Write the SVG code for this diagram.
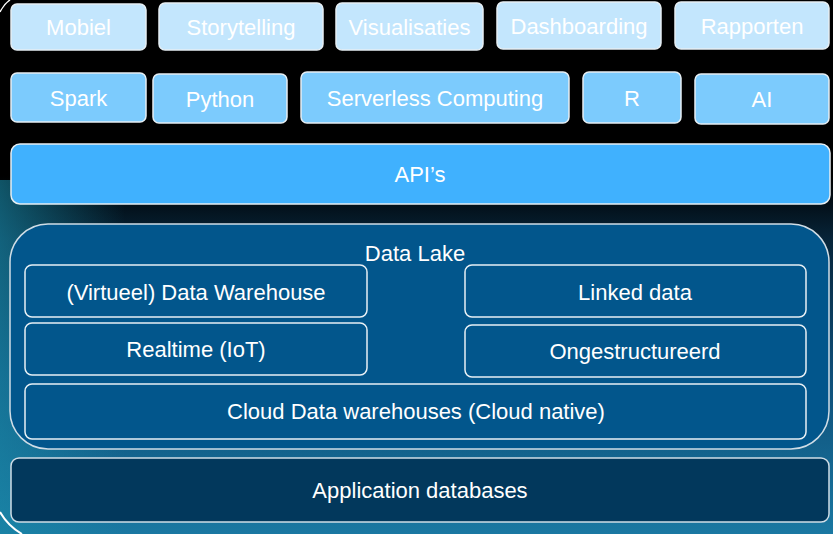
<svg xmlns="http://www.w3.org/2000/svg" width="833" height="534" viewBox="0 0 833 534">
<defs>
<linearGradient id="bg" x1="0" y1="0" x2="0" y2="1">
<stop offset="0" stop-color="#000"/>
<stop offset="0.33" stop-color="#000"/>
<stop offset="0.45" stop-color="#07253a"/>
<stop offset="0.7" stop-color="#0e4e78"/>
<stop offset="1" stop-color="#1a78a2"/>
</linearGradient>
<linearGradient id="bgl" x1="0" y1="0" x2="1" y2="0">
<stop offset="0" stop-color="#1a8aa8" stop-opacity="0.6"/>
<stop offset="0.15" stop-color="#1a8aa8" stop-opacity="0"/>
</linearGradient>
<style>
.t{font-family:"Liberation Sans",Arial,sans-serif;font-size:22px;fill:#fff;text-anchor:middle;dominant-baseline:central}
.r1{fill:#c3e6fd;stroke:#e6eef3;stroke-width:1.5}
.r2{fill:#7ccbfd;stroke:#e6eef3;stroke-width:1.5}
.api{fill:#40b1fe;stroke:#e6eef3;stroke-width:1.5}
.lake{fill:#02568c;stroke:#d0dde6;stroke-width:1.5}
.in{fill:none;stroke:#e8f0f5;stroke-width:1.5}
.app{fill:#02385c;stroke:#d0dde6;stroke-width:1.5}
</style>
</defs>
<rect width="833" height="534" fill="url(#bg)"/>
<rect y="180" width="833" height="354" fill="url(#bgl)"/>
<path d="M0,12 Q4,4 10,0" fill="none" stroke="#fff" stroke-width="1.5"/>
<path d="M0,512 Q8,526 22,534" fill="none" stroke="#fff" stroke-width="2"/>
<g id="mobiel"><rect class="r1" x="11" y="4" width="135" height="46" rx="6"/><text class="t" x="78.5" y="27">Mobiel</text></g>
<g id="storytelling"><rect class="r1" x="159" y="3" width="164" height="47" rx="6"/><text class="t" x="241" y="27">Storytelling</text></g>
<g id="visualisaties"><rect class="r1" x="336" y="3" width="147" height="47" rx="6"/><text class="t" x="409.5" y="27">Visualisaties</text></g>
<g id="dashboarding"><rect class="r1" x="497" y="2" width="164" height="47" rx="6"/><text class="t" x="579" y="26">Dashboarding</text></g>
<g id="rapporten"><rect class="r1" x="675" y="2" width="154" height="47" rx="6"/><text class="t" x="752" y="26">Rapporten</text></g>
<g id="spark"><rect class="r2" x="11" y="73" width="135" height="49" rx="6"/><text class="t" x="78.5" y="98">Spark</text></g>
<g id="python"><rect class="r2" x="153" y="74" width="134" height="49" rx="6"/><text class="t" x="220" y="99">Python</text></g>
<g id="serverless"><rect class="r2" x="301" y="72" width="268" height="51" rx="6"/><text class="t" x="435" y="98">Serverless Computing</text></g>
<g id="r"><rect class="r2" x="583" y="72" width="98" height="51" rx="6"/><text class="t" x="632" y="98">R</text></g>
<g id="ai"><rect class="r2" x="695" y="74" width="134" height="50" rx="6"/><text class="t" x="762" y="99">AI</text></g>
<g id="apis"><rect class="api" x="11" y="144" width="819" height="60" rx="9"/><text class="t" x="420" y="174">API’s</text></g>
<g id="datalake"><rect class="lake" x="10" y="224" width="819" height="225" rx="38"/><text class="t" x="415" y="253">Data Lake</text>
<g id="dwh"><rect class="in" x="25" y="265" width="342" height="52" rx="7"/><text class="t" x="196" y="292">(Virtueel) Data Warehouse</text></g>
<g id="linked"><rect class="in" x="465" y="265" width="341" height="52" rx="7"/><text class="t" x="635" y="292">Linked data</text></g>
<g id="realtime"><rect class="in" x="25" y="323" width="342" height="52" rx="7"/><text class="t" x="196" y="349">Realtime (IoT)</text></g>
<g id="ongestructureerd"><rect class="in" x="465" y="325" width="341" height="52" rx="7"/><text class="t" x="635" y="351">Ongestructureerd</text></g>
<g id="cloud"><rect class="in" x="25" y="384" width="781" height="55" rx="7"/><text class="t" x="416" y="411">Cloud Data warehouses (Cloud native)</text></g>
</g>
<g id="appdb"><rect class="app" x="11" y="458" width="818" height="64" rx="8"/><text class="t" x="420" y="490">Application databases</text></g>
<g id="connectors"></g>
</svg>
